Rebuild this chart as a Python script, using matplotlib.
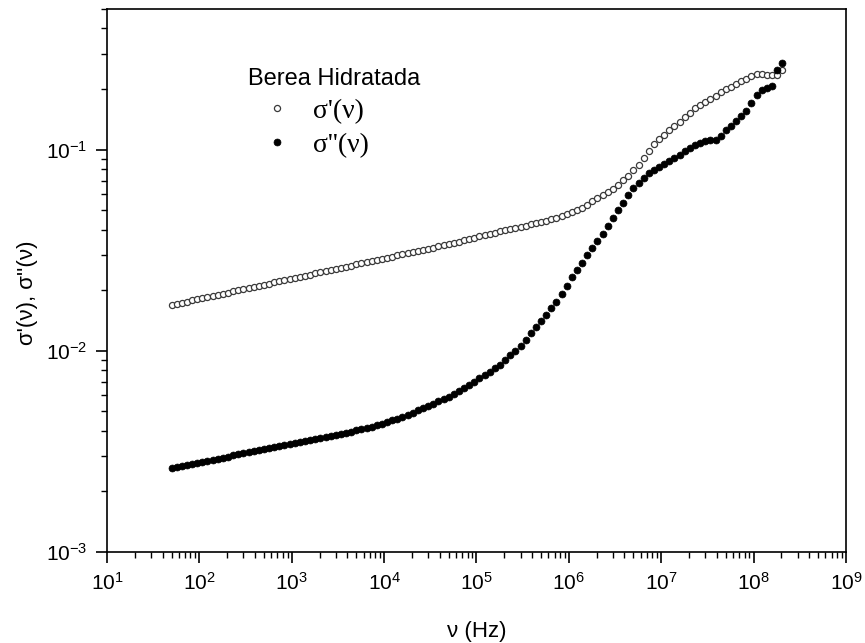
import matplotlib
matplotlib.use("Agg")
import matplotlib.pyplot as plt
from matplotlib.ticker import LogLocator, NullFormatter

plt.rcParams['font.family'] = ['Liberation Sans', 'DejaVu Sans']
plt.rcParams['mathtext.default'] = 'regular'

# frequency (Hz)
freq = [
    5.00e1, 5.68e1, 6.46e1, 7.34e1, 8.34e1, 9.48e1, 1.077e2, 1.224e2, 1.391e2,
    1.581e2, 1.797e2, 2.042e2, 2.321e2, 2.637e2, 2.997e2, 3.406e2, 3.871e2, 4.400e2,
    5.00e2, 5.68e2, 6.46e2, 7.34e2, 8.34e2, 9.48e2, 1.077e3, 1.224e3, 1.391e3,
    1.581e3, 1.797e3, 2.042e3, 2.321e3, 2.637e3, 2.997e3, 3.406e3, 3.871e3, 4.400e3,
    5.00e3, 5.68e3, 6.46e3, 7.34e3, 8.34e3, 9.48e3, 1.077e4, 1.224e4, 1.391e4,
    1.581e4, 1.797e4, 2.042e4, 2.321e4, 2.637e4, 2.997e4, 3.406e4, 3.871e4, 4.400e4,
    5.00e4, 5.68e4, 6.46e4, 7.34e4, 8.34e4, 9.48e4, 1.077e5, 1.224e5, 1.391e5,
    1.581e5, 1.797e5, 2.042e5, 2.321e5, 2.637e5, 2.997e5, 3.406e5, 3.871e5, 4.400e5,
    5.00e5, 5.68e5, 6.46e5, 7.34e5, 8.34e5, 9.48e5, 1.077e6, 1.224e6, 1.391e6,
    1.581e6, 1.797e6, 2.042e6, 2.321e6, 2.637e6, 2.997e6, 3.406e6, 3.871e6, 4.400e6,
    5.00e6, 5.68e6, 6.46e6, 7.34e6, 8.34e6, 9.48e6, 1.077e7, 1.224e7, 1.391e7,
    1.581e7, 1.797e7, 2.042e7, 2.321e7, 2.637e7, 2.997e7, 3.406e7, 3.871e7, 4.400e7,
    5.00e7, 5.68e7, 6.46e7, 7.34e7, 8.34e7, 9.48e7, 1.077e8, 1.224e8, 1.391e8,
    1.581e8, 1.797e8, 2.042e8,
]

# sigma' (open circles)
sig_re = [
    0.01690, 0.01712, 0.01735, 0.01757, 0.01780, 0.01803, 0.01826, 0.01850, 0.01874,
    0.01898, 0.01923, 0.01948, 0.01973, 0.01998, 0.02024, 0.02050, 0.02077, 0.02104,
    0.02131, 0.02159, 0.02187, 0.02215, 0.02244, 0.02273, 0.02302, 0.02332, 0.02362,
    0.02393, 0.02424, 0.02455, 0.02487, 0.02520, 0.02553, 0.02586, 0.02619, 0.02653,
    0.02688, 0.02723, 0.02758, 0.02794, 0.02830, 0.02867, 0.02904, 0.02941, 0.02980,
    0.03018, 0.03057, 0.03097, 0.03137, 0.03178, 0.03219, 0.03261, 0.03303, 0.03346,
    0.03388, 0.03439, 0.03490, 0.03542, 0.03594, 0.03648, 0.03702, 0.03757, 0.03813,
    0.03869, 0.03926, 0.03979, 0.04032, 0.04086, 0.04140, 0.04196, 0.04251, 0.04308,
    0.04365, 0.04441, 0.04519, 0.04597, 0.04677, 0.04786, 0.04898, 0.05012, 0.05129,
    0.05330, 0.05537, 0.05754, 0.05957, 0.06166, 0.06383, 0.06709, 0.07052, 0.07413,
    0.07898, 0.08414, 0.09120, 0.09886, 0.1072, 0.1128, 0.1189, 0.1248, 0.1311,
    0.1377, 0.1445, 0.1522, 0.1603, 0.1663, 0.1725, 0.1789, 0.1855, 0.1924,
    0.1995, 0.2057, 0.2121, 0.2187, 0.2254, 0.2317, 0.2377, 0.2371, 0.2344,
    0.2344, 0.2355, 0.2489,
]

# sigma'' (filled circles)
sig_im = [
    0.002606, 0.002638, 0.002671, 0.002704, 0.002737, 0.002771, 0.002805, 0.002840, 0.002875,
    0.002911, 0.002946, 0.002983, 0.003020, 0.003055, 0.003090, 0.003126, 0.003162, 0.003199,
    0.003236, 0.003273, 0.003311, 0.003350, 0.003388, 0.003428, 0.003467, 0.003508, 0.003551,
    0.003595, 0.003640, 0.003686, 0.003732, 0.003778, 0.003825, 0.003873, 0.003922, 0.003970,
    0.004020, 0.004070, 0.004121, 0.004196, 0.004272, 0.004350, 0.004431, 0.004511, 0.004593,
    0.004677, 0.004800, 0.004928, 0.005058, 0.005192, 0.005330, 0.005470, 0.005615, 0.005764,
    0.005916, 0.006117, 0.006324, 0.006539, 0.006761, 0.007025, 0.007300, 0.007586, 0.007883,
    0.008192, 0.008511, 0.008990, 0.009495, 0.01003, 0.01059, 0.01137, 0.01220, 0.01310,
    0.01406, 0.01512, 0.01627, 0.01750, 0.01921, 0.02110, 0.02317, 0.02522, 0.02744,
    0.02985, 0.03236, 0.03508, 0.03802, 0.04169, 0.04571, 0.05012, 0.05454, 0.05933,
    0.06457, 0.06823, 0.07211, 0.07621, 0.07907, 0.08204, 0.08511, 0.08810, 0.09120,
    0.09441, 0.09810, 0.1019, 0.1059, 0.1080, 0.1102, 0.1112, 0.1122, 0.1175,
    0.1245, 0.1311, 0.1380, 0.1462, 0.1549, 0.1698, 0.1862, 0.1972, 0.2018,
    0.2065, 0.2483, 0.2692,
]

x_ticks = [1e1, 1e2, 1e3, 1e4, 1e5, 1e6, 1e7, 1e8, 1e9]
y_ticks = [1e-3, 1e-2, 1e-1]

fig, ax = plt.subplots(figsize=(8.65, 6.43), dpi=100)
fig.subplots_adjust(left=0.1237, right=0.978, top=0.986, bottom=0.1415)

ax.plot(freq, sig_re, 'o', ms=4.4, mfc='white', mec='#3a3a3a', mew=0.9,
        label="σ'(ν)")
ax.plot(freq, sig_im, 'o', ms=5.0, mfc='black', mec='black', mew=0.5,
        label="σ''(ν)")

ax.set_xscale('log')
ax.set_yscale('log')
ax.set_xlim(1e1, 1e9)
ax.set_ylim(1e-3, 0.5)

ax.set_xticks(x_ticks)
ax.set_yticks(y_ticks)
ax.xaxis.set_minor_locator(LogLocator(base=10, subs=range(2, 10), numticks=20))
ax.xaxis.set_minor_formatter(NullFormatter())
ax.yaxis.set_minor_formatter(NullFormatter())

for s in ax.spines.values():
    s.set_linewidth(1.2)
ax.tick_params(which='major', direction='out', length=8, width=1.2,
               labelsize=15, pad=6)
ax.tick_params(which='minor', direction='out', length=4.5, width=1.0)

ax.set_xlabel('ν (Hz)', fontsize=16, labelpad=20)
ax.set_ylabel("σ'(ν), σ''(ν)", fontsize=16)
ax.yaxis.set_label_coords(-0.093, 0.477)

leg = ax.legend(loc='upper left', bbox_to_anchor=(0.191, 0.891), frameon=False,
                title='Berea Hidratada', alignment='left',
                prop={'family': 'Liberation Serif', 'size': 20},
                title_fontproperties={'family': 'Liberation Sans', 'size': 17},
                handlelength=2.1, handletextpad=0.25, labelspacing=0.3,
                borderpad=0, borderaxespad=0, markerscale=1.0)

fig.savefig('out.png', dpi=100)
